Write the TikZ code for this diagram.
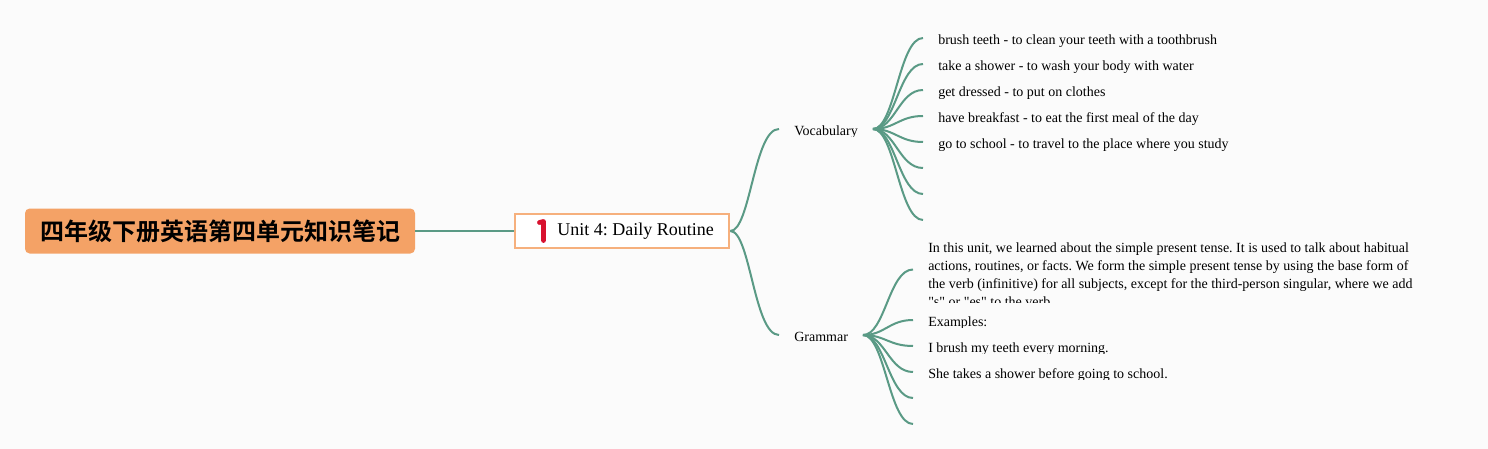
\documentclass[tikz,border=0pt]{standalone}
\usepackage{fontspec}
\setmainfont{Liberation Serif}
\newfontfamily\plainfont{Liberation Serif}
\newfontfamily\cjkbold[BoldFont=Noto Sans CJK SC Bold]{Noto Sans CJK SC}
\definecolor{pagebg}{HTML}{FBFBFB}
\definecolor{linkcol}{HTML}{5A9A85}
\definecolor{rootcol}{HTML}{F4A266}
\definecolor{iconcol}{HTML}{D8122F}
\tikzset{
  link/.style={draw=linkcol,line width=1.5pt},
  leaf/.style={anchor=base west,inner sep=0pt,font=\plainfont\frenchspacing\fontsize{10.5pt}{13.5pt}\selectfont,align=left},
}
\begin{document}
\begin{tikzpicture}[x=.75pt,y=-.75pt]
  \fill[pagebg] (0,0) rectangle (1488,449);
  \useasboundingbox (0,0) rectangle (1488,449);

  % main nodes
  \node[fill=rootcol,rounded corners=3.5pt,minimum width=292.5pt,minimum height=33.75pt,inner sep=0pt,
    font=\cjkbold\bfseries\fontsize{18pt}{22pt}\selectfont] (root) at (220,231) {\raisebox{-2.25pt}{四年级下册英语第四单元知识笔记}};
  \node[draw=rootcol!85!white,fill=white,line width=1.5pt,minimum width=161pt,minimum height=25.5pt,inner sep=0pt] (unit) at (622,231) {};
  \node[anchor=base west,inner sep=0pt,font=\frenchspacing\fontsize{13.5pt}{16pt}\selectfont] (unittext) at (557,235) {Unit 4: Daily Routine};
  \draw[iconcol,line width=3.6pt,line cap=round,line join=round] (539.5,222.5) -- (543.5,221.5) -- (543.5,240.5);

  \begin{scope}
    \clip (790,115) rectangle (870,137);
    \node[leaf] (vocab) at (794,135.5) {Vocabulary};
  \end{scope}
  \node[leaf] (grammar) at (794,341) {Grammar};
  \coordinate (vochub) at (873,129);
  \coordinate (gramhub) at (863,335);
  \coordinate (vocin) at (779,129);
  \coordinate (gramin) at (779,335);

  \draw[link] (root.east) -- (unit.west);
  \draw[link] (unit.east) .. controls +(20,0) and +(-25,0) .. (vocin);
  \draw[link] (unit.east) .. controls +(20,0) and +(-25,0) .. (gramin);

  % vocabulary
  \foreach \n/\y/\t in {1/38/brush teeth - to clean your teeth with a toothbrush,
      2/64/take a shower - to wash your body with water,
      3/90/get dressed - to put on clothes,
      4/116/have breakfast - to eat the first meal of the day,
      5/142/go to school - to travel to the place where you study} {
    \begin{scope}
      \clip (930,\y-13) rectangle (1300,\y+8.5);
      \node[leaf] (vt\n) at (938,\y+7) {\t};
    \end{scope}
  }
  \foreach \n/\y in {1/38,2/64,3/90,4/116,5/142,6/168,7/194,8/220} {
    \coordinate (v\n) at (923,\y);
    \draw[link] (vochub) .. controls +(22,0) and +(-24,0) .. (v\n);
  }

  % grammar
  \begin{scope}
    \clip (920,235) rectangle (1430,302);
    \node[leaf,anchor=north west] (para) at (928,243) {In this unit, we learned about the simple present tense. It is used to talk about habitual\\
      actions, routines, or facts. We form the simple present tense by using the base form of\\
      the verb (infinitive) for all subjects, except for the third-person singular, where we add\\
      "s" or "es" to the verb.};
  \end{scope}
  \foreach \n/\y/\t in {2/320/Examples:,3/346/I brush my teeth every morning.,4/372/She takes a shower before going to school.} {
    \begin{scope}
      \clip (920,\y-13) rectangle (1300,\y+7.5);
      \node[leaf] (gt\n) at (928,\y+6) {\t};
    \end{scope}
  }
  \foreach \n/\y in {1/269.5,2/320,3/346,4/372,5/398,6/424} {
    \coordinate (g\n) at (913,\y);
    \draw[link] (gramhub) .. controls +(22,0) and +(-24,0) .. (g\n);
  }
\end{tikzpicture}
\end{document}
